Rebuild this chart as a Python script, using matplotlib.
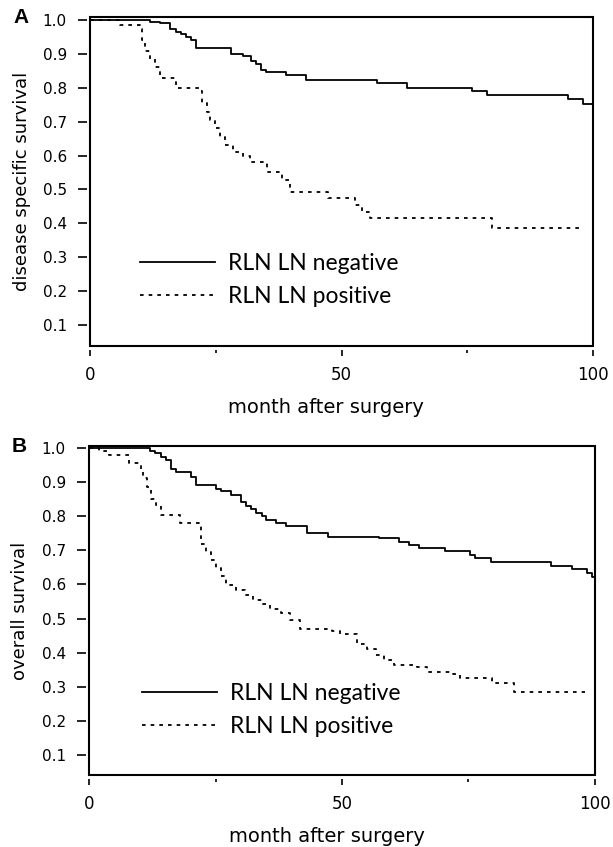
import numpy as np
import matplotlib
matplotlib.use('Agg')
import matplotlib.pyplot as plt
from matplotlib.patches import Rectangle

# panel A: disease specific survival
a_neg_t = [0, 12, 14, 16, 17, 18, 19, 20, 21, 28, 30.5, 32, 33, 34, 35, 39, 43, 57, 63, 76, 79, 95, 98, 100]
a_neg_s = [1.0, 0.995, 0.99, 0.975, 0.965, 0.958, 0.95, 0.94, 0.917, 0.90, 0.894, 0.88, 0.87, 0.853,
           0.848, 0.838, 0.823, 0.813, 0.80, 0.792, 0.779, 0.766, 0.751, 0.751]
a_pos_t = [0, 6, 9.9, 10.3, 10.9, 11.9, 12.9, 13.9, 17, 21.7, 22.3, 23.2, 23.9, 24.9, 25.8, 26.8, 28.4,
           30.5, 31.8, 35.2, 38.2, 39.8, 47.3, 52.7, 54, 55.7, 80, 98]
a_pos_s = [1.0, 0.985, 0.975, 0.941, 0.91, 0.884, 0.862, 0.83, 0.80, 0.79, 0.755, 0.73, 0.705, 0.68, 0.656,
           0.631, 0.612, 0.60, 0.582, 0.553, 0.528, 0.494, 0.474, 0.454, 0.433, 0.415, 0.387, 0.387]

# panel B: overall survival
b_neg_t = [0, 12, 13, 14.2, 15.2, 16.2, 17.2, 20.2, 21.2, 25, 26, 28.1, 30.1, 31, 32, 33, 34.1, 35, 37, 39,
           43.1, 47.3, 57.3, 61.3, 63.3, 65.3, 70.3, 75.3, 76.3, 79.4, 91.4, 95.4, 98.4, 99.4, 100]
b_neg_s = [1.0, 0.99, 0.987, 0.975, 0.965, 0.94, 0.93, 0.916, 0.891, 0.88, 0.875, 0.862, 0.843, 0.83, 0.82,
           0.81, 0.80, 0.79, 0.779, 0.772, 0.75, 0.74, 0.735, 0.724, 0.716, 0.708, 0.698, 0.686, 0.678,
           0.667, 0.655, 0.644, 0.633, 0.621, 0.621]
b_pos_t = [0, 2, 4, 7.9, 10.3, 10.7, 11.5, 12.2, 13.2, 14.2, 17.9, 21.8, 22.2, 23.2, 24.2, 25.1, 26.1, 27.1,
           29.1, 30.8, 32.4, 34.1, 35.7, 38, 39.7, 41.7, 48, 49.6, 53, 54.9, 56.7, 58.3, 60.2, 64.8, 66.8,
           71.9, 73.3, 79.7, 84, 98]
b_pos_s = [1.0, 0.991, 0.98, 0.955, 0.94, 0.911, 0.886, 0.852, 0.833, 0.804, 0.779, 0.77, 0.72, 0.696,
           0.672, 0.647, 0.625, 0.598, 0.584, 0.569, 0.554, 0.543, 0.527, 0.515, 0.496, 0.468, 0.464, 0.455,
           0.425, 0.41, 0.393, 0.378, 0.364, 0.358, 0.344, 0.338, 0.325, 0.31, 0.285, 0.285]

labels = ['RLN LN negative', 'RLN LN positive']
yticks = [0.1, 0.2, 0.3, 0.4, 0.5, 0.6, 0.7, 0.8, 0.9, 1.0]

fig = plt.figure(figsize=(6.13, 8.47), dpi=100)

panels = [
    ('A', [0.1468, 0.5915, 0.8206, 0.3884], (0.038, 1.009), 'disease specific survival',
     a_neg_t, a_neg_s, a_pos_t, a_pos_s, (0.0994, 0.2006)),
    ('B', [0.1452, 0.0850, 0.8254, 0.3884], (0.041, 1.006), 'overall survival',
     b_neg_t, b_neg_s, b_pos_t, b_pos_s, (0.104, 0.1976)),
]

for letter, rect, ylim, ylab, nt, ns, pt, ps, leg_xy in panels:
    ax = fig.add_axes(rect)
    ax.step(nt, ns, where='post', color='black', lw=1.3, label=labels[0])
    ax.step(pt, ps, where='post', color='black', lw=1.3, linestyle=(0, (2, 2.8)), label=labels[1])
    ax.set_xlim(0, 100)
    ax.set_ylim(*ylim)

    # ticks sit slightly away from the frame
    for s in ax.spines.values():
        s.set_visible(False)
    ax.spines['left'].set_position(('outward', 2.2))
    ax.spines['bottom'].set_position(('outward', 3))
    ax.add_patch(Rectangle((0, 0), 1, 1, transform=ax.transAxes, fill=False,
                           lw=1.5, edgecolor='black', clip_on=False, zorder=5))

    ax.set_yticks(yticks)
    ax.set_yticklabels(['%.1f' % v for v in yticks])
    ax.set_xticks([0, 50, 100])
    ax.set_xticks([25, 75], minor=True)
    ax.tick_params(axis='y', direction='out', length=6.5, width=1.2, pad=8, labelsize=11)
    ax.tick_params(axis='x', which='major', direction='out', length=4.3, width=1.2, pad=7, labelsize=12)
    ax.tick_params(axis='x', which='minor', direction='out', length=2.2, width=1.2)
    ax.tick_params(right=False, top=False)

    ax.set_xlabel('month after surgery', fontsize=14)
    ax.xaxis.set_label_coords(0.47, -0.158)
    ax.set_ylabel(ylab, fontsize=13)
    ax.yaxis.set_label_coords(-0.118, 0.5)

    ax.text(-0.152, 1.0, letter, transform=ax.transAxes, fontsize=15, fontweight='bold',
            family='Liberation Sans', ha='left', va='center')

    ax.legend(loc='center left', bbox_to_anchor=leg_xy, frameon=False, borderpad=0,
              borderaxespad=0, handlelength=3.27, handletextpad=0.57, labelspacing=0.5,
              prop={'family': 'Lato', 'size': 16.5})

plt.savefig('out.png', dpi=100)
